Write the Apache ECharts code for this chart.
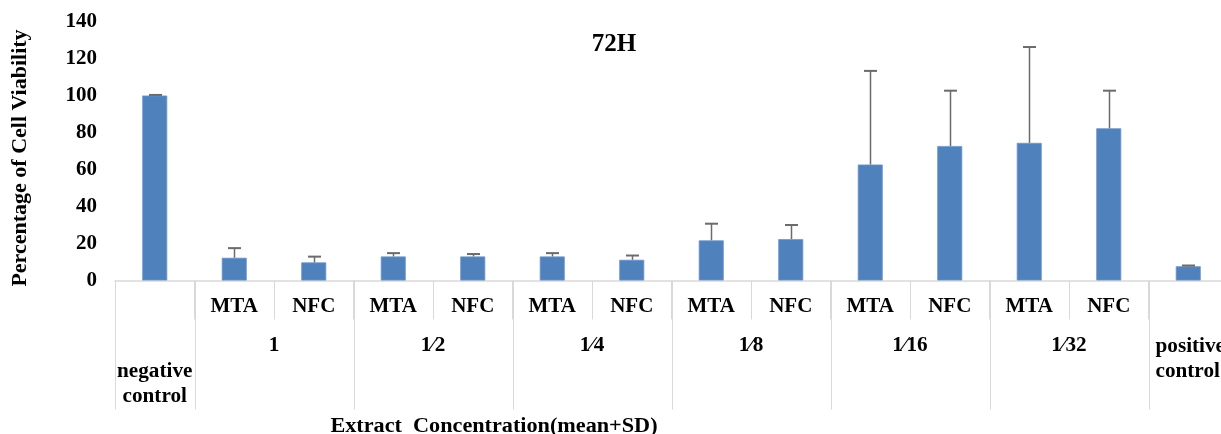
<!DOCTYPE html>
<html>
<head>
<meta charset="utf-8">
<script src="https://cdn.jsdelivr.net/npm/echarts@6/dist/echarts.min.js"></script>
<style>
  html, body { margin: 0; padding: 0; background: #fff; }
  #chart { width: 1221px; height: 434px; }
</style>
</head>
<body>
<div id="chart"></div>
<script>
// ---- data ----
const subLabels = ['', 'MTA', 'NFC', 'MTA', 'NFC', 'MTA', 'NFC', 'MTA', 'NFC', 'MTA', 'NFC', 'MTA', 'NFC', ''];
const groupLabels = ['negative\ncontrol', '1', '1\u20442', '1\u20444', '1\u20448', '1\u204416', '1\u204432', 'positive\ncontrol'];
const groupSpans = [[0, 0], [1, 2], [3, 4], [5, 6], [7, 8], [9, 10], [11, 12], [13, 13]];
const means = [100, 12.3, 9.8, 13.0, 13.0, 13.0, 11.2, 21.7, 22.4, 62.7, 72.7, 74.4, 82.3, 7.7];
const sds   = [0.3, 5.2, 3.1, 1.8, 1.3, 1.8, 2.3, 9.0, 7.6, 50.6, 29.9, 51.8, 20.3, 0.4];
const yMin = 0, yMax = 140, yStep = 20;
const titleText = '72H';
const yTitle = 'Percentage of Cell Viability';
const xTitle = 'Extract  Concentration(mean+SD)';

const FONT = '"Liberation Serif", "Times New Roman", serif';
const chart = echarts.init(document.getElementById('chart'), null, { renderer: 'canvas' });

function renderGroup(params, api) {
  const s = api.value(0), e = api.value(1);
  const idx = params.dataIndex;
  const last = idx === groupSpans.length - 1;
  const band = api.size([1, 0])[0];
  const base = api.coord([s, 0]);
  const x0 = base[0] - band / 2;
  const x1 = api.coord([e, 0])[0] + band / 2;
  const y0 = base[1];
  const lineStyle = { stroke: '#d9d9d9', lineWidth: 1 };
  const children = [
    { type: 'line', shape: { x1: Math.round(x0) + 0.5, y1: y0, x2: Math.round(x0) + 0.5, y2: y0 + 129 }, style: lineStyle }
  ];
  if (last) {
    children.push({ type: 'line', shape: { x1: Math.round(x1) + 0.5, y1: y0, x2: Math.round(x1) + 0.5, y2: y0 + 129 }, style: lineStyle });
  }
  let ty = y0 + 65;
  if (s === e) ty = idx === 0 ? y0 + 104 : y0 + 79;
  children.push({
    type: 'text',
    x: last ? x0 + 7 : (x0 + x1) / 2, y: ty, scaleX: 1.06,
    style: {
      x: 0, y: 0, text: groupLabels[idx],
      align: last ? 'left' : 'center', verticalAlign: 'middle',
      font: 'bold 20px ' + FONT, lineHeight: 25, fill: '#000'
    }
  });
  return { type: 'group', children };
}

function renderError(params, api) {
  const i = api.value(0);
  const p0 = api.coord([i, api.value(1)]);
  const p1 = api.coord([i, api.value(2)]);
  const x = Math.round(p0[0]) + 0.5;
  const style = { stroke: '#6b6b6b', lineWidth: 1.5 };
  return {
    type: 'group',
    children: [
      { type: 'line', shape: { x1: x, y1: p0[1], x2: x, y2: p1[1] }, style },
      { type: 'line', shape: { x1: x - 6.5, y1: p1[1], x2: x + 6.5, y2: p1[1] }, style: { stroke: '#6b6b6b', lineWidth: 2 } }
    ]
  };
}

const option = {
  animation: false,
  backgroundColor: '#fff',
  title: {
    text: titleText, left: 614, top: 32, textAlign: 'center', padding: 0,
    textStyle: { fontFamily: FONT, fontWeight: 'bold', fontSize: 25, color: '#000' }
  },
  grid: { left: 115, right: -7, top: 21.5, bottom: 153.5, outerBoundsMode: 'none', containLabel: false },
  xAxis: {
    type: 'category',
    data: subLabels,
    axisLine: { show: true, lineStyle: { color: '#d9d9d9', width: 1.5 } },
    axisTick: { show: true, length: 39, interval: 0, lineStyle: { color: '#d9d9d9', width: 1 } },
    axisLabel: { interval: 0, margin: 16, fontFamily: FONT, fontWeight: 'bold', fontSize: 21, color: '#000' },
    splitLine: { show: false }
  },
  yAxis: {
    type: 'value', min: yMin, max: yMax, interval: yStep,
    axisLine: { show: false }, axisTick: { show: false }, splitLine: { show: false },
    axisLabel: { margin: 18, fontFamily: FONT, fontWeight: 'bold', fontSize: 21, color: '#000' }
  },
  graphic: [
    { type: 'text', x: 21, y: 158, rotation: Math.PI / 2, scaleX: 1.1,
      style: { text: yTitle, align: 'center', verticalAlign: 'middle', font: 'bold 20px ' + FONT, fill: '#000' } },
    { type: 'text', x: 494, y: 427, scaleX: 1.11,
      style: { text: xTitle, align: 'center', verticalAlign: 'middle', font: 'bold 20px ' + FONT, fill: '#000' } }
  ],
  series: [
    {
      type: 'bar', data: means, barWidth: 25,
      itemStyle: { color: '#4f81bd', borderColor: '#6d97cb', borderWidth: 0.8 },
      z: 2
    },
    {
      type: 'custom', renderItem: renderError, z: 3, clip: false,
      encode: { x: 0, y: [1, 2] },
      data: means.map((m, i) => [i, m, m + sds[i]])
    },
    {
      type: 'custom', renderItem: renderGroup, z: 1, clip: false, silent: true,
      encode: { x: [0, 1], y: 2 },
      data: groupSpans.map(g => [g[0], g[1], 0])
    }
  ]
};
chart.setOption(option);
</script>
</body>
</html>
